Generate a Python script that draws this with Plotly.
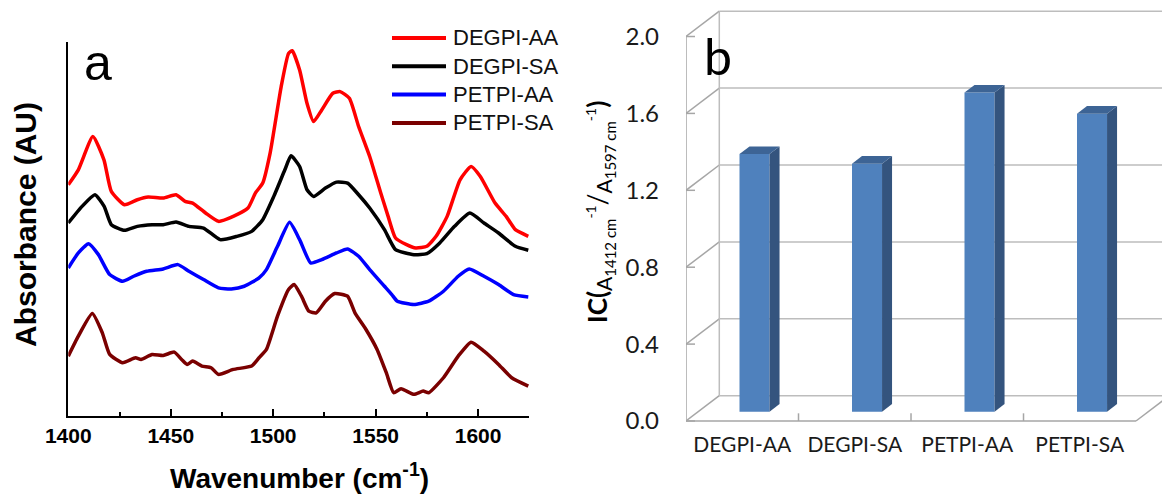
import plotly.graph_objects as go

W, H = 1162, 494


def fx(p):
    return p / W


def fy(p):
    return 1 - p / H


# ---------------- data: panel a (FTIR spectra) ----------------
wn_degpi_aa = [1400, 1404.9, 1412, 1417.4, 1421, 1427.4, 1433.7, 1439, 1446.3, 1452.6, 1457, 1460.7,
               1467, 1473.3, 1480.5, 1487.7, 1491.3, 1494.9, 1498.5, 1503.9, 1507.5, 1509.3, 1512.9,
               1516.5, 1519.7, 1523.7, 1529.1, 1532.7, 1537.2, 1541.7, 1547.1, 1552.5, 1556.1, 1559.7,
               1565.1, 1569.6, 1575, 1579.5, 1584.9, 1591.2, 1596.6, 1601.1, 1608.3, 1613.7, 1618.2, 1624.5]
ab_degpi_aa = [0.695, 0.74, 0.84, 0.77, 0.675, 0.635, 0.65, 0.658, 0.655, 0.665, 0.645, 0.64,
               0.61, 0.585, 0.60, 0.625, 0.67, 0.70, 0.79, 0.99, 1.09, 1.098, 1.04,
               0.94, 0.885, 0.92, 0.97, 0.975, 0.955, 0.87, 0.78, 0.67, 0.60, 0.535,
               0.515, 0.505, 0.51, 0.54, 0.60, 0.71, 0.75, 0.72, 0.64, 0.60, 0.56, 0.54]

wn_degpi_sa = [1400, 1406.7, 1413, 1417.5, 1421, 1427.4, 1433.7, 1440.9, 1446.3, 1452.6, 1458.9, 1466,
               1474.1, 1482.3, 1489.5, 1494.9, 1500.3, 1505.7, 1508.7, 1512.9, 1516.5, 1519.7, 1525.5,
               1530.9, 1536.3, 1541.7, 1547.1, 1554.3, 1559.7, 1568.7, 1575, 1581.3, 1588.5, 1596,
               1602.9, 1610, 1618.2, 1624.5]
ab_degpi_sa = [0.58, 0.63, 0.665, 0.63, 0.575, 0.558, 0.57, 0.575, 0.575, 0.583, 0.57, 0.565,
               0.53, 0.54, 0.555, 0.59, 0.66, 0.74, 0.782, 0.75, 0.68, 0.66, 0.685,
               0.703, 0.70, 0.665, 0.625, 0.56, 0.50, 0.485, 0.488, 0.52, 0.57, 0.61,
               0.58, 0.55, 0.51, 0.498]

wn_petpi_aa = [1400, 1404.9, 1409.9, 1414.7, 1420.2, 1426.5, 1431.9, 1438.2, 1446.3, 1453.5, 1458.9,
               1466, 1473.3, 1479.6, 1485.9, 1493.1, 1496.7, 1502.1, 1508, 1512.9, 1518.3, 1523.7,
               1530.9, 1536.3, 1541.7, 1547.1, 1554.3, 1557.9, 1560.6, 1568.7, 1575.9, 1583.1, 1590.3,
               1595.7, 1602.9, 1610, 1617.3, 1624.5]
ab_petpi_aa = [0.445, 0.49, 0.518, 0.485, 0.425, 0.405, 0.42, 0.435, 0.442, 0.455, 0.435,
               0.41, 0.385, 0.382, 0.39, 0.415, 0.44, 0.51, 0.582, 0.53, 0.46, 0.47,
               0.49, 0.502, 0.48, 0.44, 0.39, 0.365, 0.345, 0.335, 0.345, 0.375, 0.42,
               0.442, 0.42, 0.395, 0.365, 0.358]

wn_petpi_sa = [1400, 1404.9, 1411.7, 1416.6, 1420.2, 1426.5, 1432.8, 1435.5, 1440.9, 1446.3, 1451.7,
               1455.3, 1458, 1460.7, 1465.2, 1469.7, 1473.3, 1480.5, 1489.5, 1493.1, 1496.7, 1502.1,
               1507.5, 1510.2, 1513.8, 1517.4, 1521, 1525.5, 1530, 1536.3, 1539.9, 1545.3, 1550.7,
               1555.2, 1558.8, 1562.4, 1568.7, 1573.2, 1575.9, 1583.1, 1590.3, 1596.6, 1602.9, 1610,
               1616.4, 1624.5]
ab_petpi_sa = [0.18, 0.24, 0.308, 0.25, 0.185, 0.16, 0.175, 0.17, 0.185, 0.182, 0.192,
               0.17, 0.155, 0.165, 0.15, 0.145, 0.125, 0.14, 0.15, 0.175, 0.20, 0.30,
               0.38, 0.395, 0.36, 0.315, 0.31, 0.345, 0.368, 0.36, 0.31, 0.26, 0.20,
               0.13, 0.07, 0.082, 0.065, 0.075, 0.07, 0.115, 0.18, 0.222, 0.195, 0.155,
               0.115, 0.09]

series_names = ["DEGPI-AA", "DEGPI-SA", "PETPI-AA", "PETPI-SA"]
series_colors = ["#FF0000", "#000000", "#0000FF", "#7A0000"]
series_x = [wn_degpi_aa, wn_degpi_sa, wn_petpi_aa, wn_petpi_sa]
series_y = [ab_degpi_aa, ab_degpi_sa, ab_petpi_aa, ab_petpi_sa]
wn_ticks = [1400, 1450, 1500, 1550, 1600]

# ---------------- data: panel b (IC ratio bars) ----------------
categories = ["DEGPI-AA", "DEGPI-SA", "PETPI-AA", "PETPI-SA"]
ic_values = [1.34, 1.29, 1.66, 1.55]
ic_ticks = [0.0, 0.4, 0.8, 1.2, 1.6, 2.0]

fig = go.Figure()

LFONT = "Liberation Sans, Arial, sans-serif"
RFONT = "Lato, Open Sans, sans-serif"

for name, col, xs, ys in zip(series_names, series_colors, series_x, series_y):
    fig.add_trace(go.Scatter(
        x=xs, y=ys, mode="lines", name=name, showlegend=False,
        line=dict(color=col, width=3.5, shape="spline", smoothing=0.5),
        xaxis="x", yaxis="y"))

# 3D-look geometry (depth offsets expressed in axis units)
DXB, DYB = 0.296, 0.1316   # back wall offset
DXF, DYF = 0.109, 0.0484   # bar front plane offset
DXS, DYS = 0.089, 0.0395   # bar depth
BW = 0.267
XL, XR = -0.5, len(categories) - 0.5
GRID = "#BDBDBD"
AXC = "#A6A6A6"

shapes = []
annotations = []


def seg(x0, y0, x1, y1, color=GRID, width=1.5):
    shapes.append(dict(type="line", xref="x2", yref="y2", x0=x0, y0=y0, x1=x1, y1=y1,
                       line=dict(color=color, width=width), layer="below"))


for t in ic_ticks:
    seg(XL + DXB, t + DYB, XR + 3, t + DYB)            # back wall gridline
    seg(XL, t, XL + DXB, t + DYB, AXC)                 # side diagonal
    seg(XL, t, XL + 0.08, t, AXC)                      # tick stub
seg(XL + DXB, ic_ticks[0] + DYB, XL + DXB, ic_ticks[-1] + DYB)  # back-left edge
seg(XL, ic_ticks[0], XL, ic_ticks[-1], AXC)                      # front-left axis
seg(XL, 0, XR, 0, AXC)                                            # floor front edge
seg(XR, 0, XR + DXB, DYB, AXC)                                    # floor right diagonal
for k in range(1, len(categories)):
    seg(k - 0.5, 0, k - 0.5, 0.04, AXC)                           # category ticks

# legend for panel a (drawn as line samples + labels)
for k, (name, col) in enumerate(zip(series_names, series_colors)):
    yk = 38 + k * 28.3
    shapes.append(dict(type="line", xref="paper", yref="paper",
                       x0=fx(392), x1=fx(446), y0=fy(yk), y1=fy(yk),
                       line=dict(color=col, width=4)))
    annotations.append(dict(text=name, x=fx(451), y=fy(yk), xref="paper", yref="paper",
                            xanchor="left", yanchor="middle", showarrow=False,
                            font=dict(family=LFONT, size=22, color="#111")))

# bars: front faces
fig.add_trace(go.Bar(
    x=[i + DXF for i in range(len(categories))], y=ic_values, base=DYF, width=BW,
    marker=dict(color="#4F81BD", line=dict(width=0)), showlegend=False,
    xaxis="x2", yaxis="y2"))

# side and top faces
for i, v in enumerate(ic_values):
    xr = i + DXF + BW / 2
    xl = i + DXF - BW / 2
    fig.add_trace(go.Scatter(
        x=[xr, xr + DXS, xr + DXS, xr, xr], y=[DYF, DYF + DYS, DYF + v + DYS, DYF + v, DYF],
        fill="toself", fillcolor="#34547E", mode="lines", line=dict(width=0, color="#34547E"),
        showlegend=False, hoverinfo="skip", xaxis="x2", yaxis="y2"))
    fig.add_trace(go.Scatter(
        x=[xl, xl + DXS, xr + DXS, xr, xl], y=[DYF + v, DYF + v + DYS, DYF + v + DYS, DYF + v, DYF + v],
        fill="toself", fillcolor="#3D6495", mode="lines", line=dict(width=0, color="#3D6495"),
        showlegend=False, hoverinfo="skip", xaxis="x2", yaxis="y2"))


def ann(text, x, y, size, family, angle=0):
    return dict(text=text, x=fx(x), y=fy(y), xref="paper", yref="paper", xanchor="center",
                yanchor="middle", showarrow=False, textangle=angle,
                font=dict(family=family, size=size, color="black"))


def ic_term(num):
    return ("<sub><span style='font-size:21px'>A</span><sub><span style='font-size:15px'>"
            + num + " cm</span></sub></sub><sup><span style='font-size:14px'>-1</span></sup>")


annotations += [
    ann("a", 98, 63, 50, LFONT),
    ann("b", 718, 56, 50, RFONT),
    ann("<b>Absorbance (AU)</b>", 25, 225, 30, LFONT, -90),
    ann("<b>Wavenumber (cm<sup>-1</sup>)</b>", 299, 476, 28, LFONT),
    ann("<b>IC(</b>" + ic_term("1412") + "/" + ic_term("1597") + "<b>)</b>",
        600, 212, 26, RFONT, -90),
]

fig.update_layout(
    template="none",
    width=W, height=H, margin=dict(l=0, r=0, t=0, b=0, pad=0), autosize=False,
    paper_bgcolor="white", plot_bgcolor="white",
    shapes=shapes, annotations=annotations,
    showlegend=False,
    xaxis=dict(domain=[fx(68.3), fx(529.3)], range=[1400, 1625], anchor="y", automargin=False,
               tickvals=wn_ticks, ticks="inside", ticklen=7, tickwidth=2, tickcolor="black",
               minor=dict(dtick=25, tick0=1400, ticks="inside", ticklen=4, tickwidth=2, tickcolor="black"),
               showline=True, linewidth=2, linecolor="black", showgrid=False, zeroline=False,
               tickfont=dict(family=LFONT, size=21, color="black", weight="bold")),
    yaxis=dict(domain=[fy(416), fy(41.7)], range=[0, 1.125], anchor="x", automargin=False,
               showticklabels=False, ticks="", showline=True, linewidth=2, linecolor="black",
               showgrid=False, zeroline=False),
    xaxis2=dict(domain=[fx(686), 1.0], range=[XL, 3.731], anchor="y2", automargin=False,
                tickvals=list(range(len(categories))), ticktext=categories, ticks="",
                showline=False, showgrid=False, zeroline=False,
                tickfont=dict(family=RFONT, size=21, color="#1a1a1a")),
    yaxis2=dict(domain=[fy(430), fy(6)], range=[-0.0468, 2.1587], anchor="x2", automargin=False,
                tickvals=ic_ticks, ticktext=[f"{t:.1f}" for t in ic_ticks], ticks="",
                ticklabelstandoff=26,
                showline=False, showgrid=False, zeroline=False,
                tickfont=dict(family=RFONT, size=24, color="#1a1a1a")),
)

fig.write_html("out.html", config={"displayModeBar": False},
               post_script="document.body.style.margin='0';document.body.style.padding='0';")
